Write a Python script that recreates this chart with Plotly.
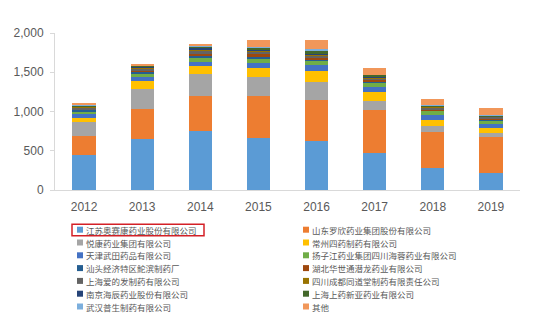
import plotly.graph_objects as go

years = ["2012", "2013", "2014", "2015", "2016", "2017", "2018", "2019"]

names = [
    "江苏奥赛康药业股份有限公司", "山东罗欣药业集团股份有限公司",
    "悦康药业集团有限公司", "常州四药制药有限公司",
    "天津武田药品有限公司", "扬子江药业集团四川海蓉药业有限公司",
    "汕头经济特区鮀滨制药厂", "湖北华世通潜龙药业有限公司",
    "上海爱的发制药有限公司", "四川成都同道堂制药有限责任公司",
    "南京海辰药业股份有限公司", "上海上药新亚药业有限公司",
    "武汉普生制药有限公司", "其他",
]

aosaikang = [445, 645, 750, 666, 619, 466, 276, 212]
luoxin = [248, 385, 450, 530, 526, 552, 466, 458]
yuekang = [176, 263, 275, 240, 233, 120, 70, 55]
changzhou = [51, 93, 106, 120, 140, 112, 76, 60]
wutian = [45, 55, 55, 65, 75, 65, 70, 55]
yangzijiang = [35, 40, 50, 50, 55, 55, 50, 50]
shantou = [20, 25, 30, 20, 15, 10, 5, 5]
hubei = [10, 15, 20, 45, 20, 15, 10, 10]
aidefa = [20, 25, 35, 30, 30, 30, 30, 25]
tongdaotang = [8, 10, 10, 10, 10, 10, 5, 5]
haichen = [12, 15, 35, 15, 15, 10, 5, 5]
xinya = [10, 10, 15, 25, 40, 20, 10, 10]
pusheng = [5, 5, 5, 5, 20, 5, 5, 5]
others = [15, 20, 25, 85, 110, 90, 80, 85]

series = [aosaikang, luoxin, yuekang, changzhou, wutian, yangzijiang, shantou,
          hubei, aidefa, tongdaotang, haichen, xinya, pusheng, others]

colors = ["#5B9BD5", "#ED7D31", "#A5A5A5", "#FFC000", "#4472C4", "#70AD47",
          "#255E91", "#9E480E", "#636363", "#997300", "#264478", "#43682B",
          "#7CAFDD", "#F1975A"]

W, H = 553, 320
ML, MR, MT, MB = 55, 33, 33, 130
PW, PH = W - ML - MR, H - MT - MB


def px2paper(px, py):
    return (px - ML) / PW, (H - MB - py) / PH


fig = go.Figure()
for name, vals, col in zip(names, series, colors):
    fig.add_trace(go.Bar(x=years, y=vals, name=name, marker_color=col,
                         marker_line_width=0, showlegend=False))

shapes = []
annotations = []
font_cjk = "Noto Sans CJK SC, Noto Sans, sans-serif"
for i, (name, col) in enumerate(zip(names, colors)):
    row, c = divmod(i, 2)
    cy = 229.7 + 12.8 * row
    mx = 80 if c == 0 else 306
    tx = 84 if c == 0 else 310
    x0, y0 = px2paper(mx - 3, cy + 3)
    x1, y1 = px2paper(mx + 3, cy - 3)
    shapes.append(dict(type="rect", xref="paper", yref="paper", x0=x0, x1=x1,
                       y0=y0, y1=y1, fillcolor=col, line_width=0))
    ax, ay = px2paper(tx, cy)
    annotations.append(dict(text=name, xref="paper", yref="paper", x=ax, y=ay,
                            xanchor="left", yanchor="middle", showarrow=False,
                            font=dict(family=font_cjk, size=8.5, color="#595959")))

# red highlight box around the first legend entry
bx0, by0 = px2paper(72, 235.7)
bx1, by1 = px2paper(204, 224.3)
shapes.append(dict(type="rect", xref="paper", yref="paper", x0=bx0, x1=bx1,
                   y0=by0, y1=by1, line=dict(color="#D42027", width=1.5),
                   fillcolor="rgba(0,0,0,0)"))

fig.update_layout(
    barmode="stack",
    bargap=0.6,
    width=W, height=H,
    margin=dict(l=ML, r=MR, t=MT, b=MB, pad=0),
    paper_bgcolor="white", plot_bgcolor="white",
    shapes=shapes, annotations=annotations,
    font=dict(family="Liberation Sans, Arial, sans-serif", size=12, color="#595959"),
)
fig.update_xaxes(showline=True, linecolor="#D9D9D9", linewidth=1, ticks="",
                 showgrid=False, ticklabelstandoff=6,
                 tickfont=dict(size=12, color="#595959"))
fig.update_yaxes(range=[0, 2000], dtick=500, tickformat=",", showgrid=False,
                 showline=True, linecolor="#D9D9D9", linewidth=1,
                 ticks="outside", ticklen=4, tickcolor="#D9D9D9",
                 ticklabelstandoff=4,
                 tickfont=dict(size=12, color="#595959"), zeroline=False)

fig.write_html("out.html")
